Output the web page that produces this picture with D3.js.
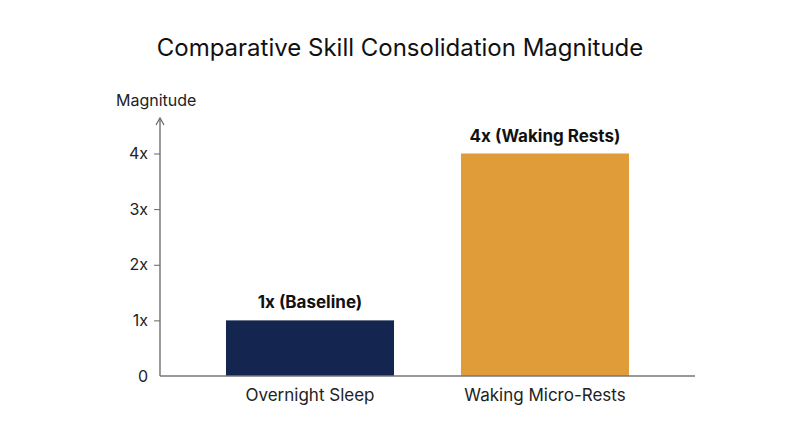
<!DOCTYPE html>
<html><head><meta charset="utf-8">
<script src="https://cdn.jsdelivr.net/npm/d3@7"></script>
<style>body{margin:0;background:#fff}text{font-family:Inter,"Noto Sans",sans-serif}</style>
</head><body><svg id="c" width="800" height="447"></svg>
<script>
const categories = ["Overnight Sleep", "Waking Micro-Rests"];
const values = [1, 4];
const labels = ["1x (Baseline)", "4x (Waking Rests)"];
const colors = ["#142650", "#e09c38"];
const tickValues = [0, 1, 2, 3, 4];
const tickLabels = ["0", "1x", "2x", "3x", "4x"];

const svg = d3.select("#c");
const x0 = 160, x1 = 695, yBase = 376;
const y = d3.scaleLinear().domain([0, 4]).range([yBase, 153.5]);
const x = d3.scaleBand().domain(categories).range([x0, x1]).paddingInner(0.285).paddingOuter(0.1425 + (535 - 470) / 2 / 235);

svg.append("text").attr("x", 400).attr("y", 56).attr("text-anchor", "middle")
  .attr("font-size", 24).attr("fill", "#111").text("Comparative Skill Consolidation Magnitude");

svg.selectAll("rect.bar").data(values).join("rect").attr("class", "bar")
  .attr("x", (d, i) => x(categories[i])).attr("width", x.bandwidth())
  .attr("y", d => y(d)).attr("height", d => yBase - y(d)).attr("fill", (d, i) => colors[i]);

svg.selectAll("text.val").data(values).join("text").attr("class", "val")
  .attr("x", (d, i) => x(categories[i]) + x.bandwidth() / 2).attr("y", d => y(d) - 12)
  .attr("text-anchor", "middle").attr("font-size", 17).attr("font-weight", 700).attr("fill", "#111")
  .text((d, i) => labels[i]);

// y axis
const ya = svg.append("g").attr("transform", `translate(${x0},0)`)
  .call(d3.axisLeft(y).tickValues(tickValues).tickSize(6).tickPadding(6).tickFormat((d, i) => tickLabels[i]));
ya.select(".domain").remove();
ya.selectAll(".tick line").attr("stroke", "#666").attr("display", d => d === 0 ? "none" : null);
ya.selectAll(".tick text").attr("font-size", 16).attr("fill", "#222").attr("font-family", "Inter,sans-serif");
svg.append("line").attr("x1", x0).attr("x2", x0).attr("y1", 118).attr("y2", yBase).attr("stroke", "#666").attr("stroke-width", 1.3);
svg.append("path").attr("d", `M${x0-4},125 L${x0},118 L${x0+4},125`).attr("fill", "none").attr("stroke", "#666").attr("stroke-width", 1.2);
svg.append("text").attr("x", 116).attr("y", 106).attr("font-size", 16).attr("fill", "#222").text("Magnitude");

// x axis
svg.append("line").attr("x1", x0).attr("x2", x1).attr("y1", yBase).attr("y2", yBase).attr("stroke", "#777").attr("stroke-width", 1.3);
svg.selectAll("text.cat").data(categories).join("text").attr("class", "cat")
  .attr("x", d => x(d) + x.bandwidth() / 2).attr("y", 401).attr("text-anchor", "middle")
  .attr("font-size", 17).attr("fill", "#222").text(d => d);
</script></body></html>
